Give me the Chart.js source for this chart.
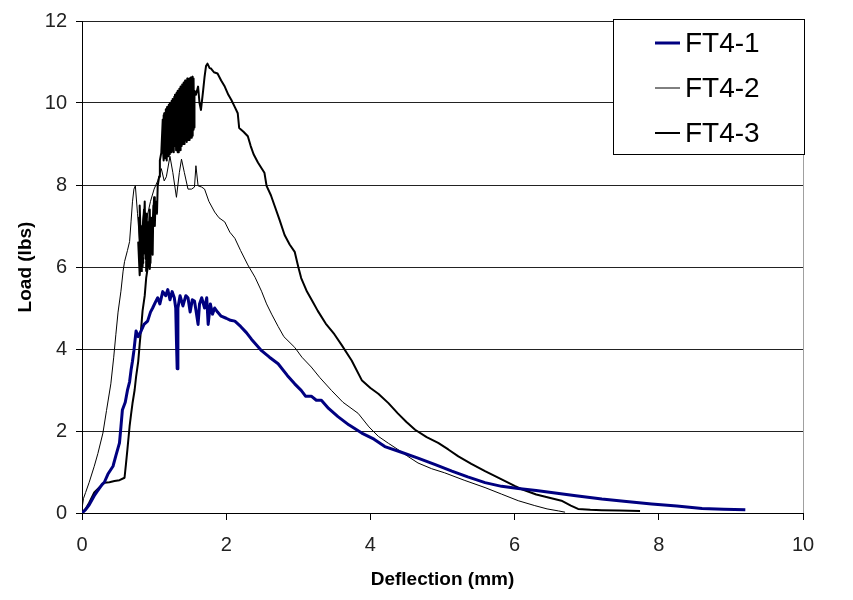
<!DOCTYPE html>
<html>
<head>
<meta charset="utf-8">
<script src="https://cdn.jsdelivr.net/npm/chart.js@4"></script>
<style>
  html, body { margin: 0; padding: 0; background: #fff; }
  #wrap { width: 853px; height: 600px; }
</style>
</head>
<body>
<div id="wrap"><canvas id="chart" width="853" height="600"></canvas></div>
<script>
// deflection (mm), load (lbs) pairs
const ft41 = [
  [0,0],[0.05,0.08],[0.1,0.2],[0.17,0.42],[0.22,0.55],[0.28,0.7],[0.31,0.75],[0.36,0.95],
  [0.43,1.14],[0.47,1.4],[0.52,1.71],[0.54,2.1],[0.56,2.51],[0.6,2.7],[0.63,2.99],[0.66,3.2],
  [0.68,3.48],[0.7,3.7],[0.72,3.96],[0.75,4.44],[0.78,4.3],[0.82,4.44],[0.86,4.6],[0.91,4.68],
  [0.95,4.9],[0.98,5.0],[1.02,5.15],[1.05,5.25],[1.08,5.1],[1.12,5.4],[1.16,5.3],[1.19,5.45],
  [1.22,5.2],[1.25,5.4],[1.28,5.25],[1.3,5.0],[1.31,4.2],[1.32,3.52],[1.33,5.0],[1.36,5.3],
  [1.4,5.05],[1.44,5.3],[1.47,5.25],[1.5,4.9],[1.53,5.2],[1.56,5.17],[1.58,4.95],[1.61,4.6],
  [1.63,5.1],[1.66,5.25],[1.7,5.0],[1.73,5.25],[1.75,4.6],[1.78,5.1],[1.81,4.85],[1.84,5.0],
  [1.88,4.9],[1.93,4.8],[2.0,4.75],[2.06,4.7],[2.12,4.68],[2.2,4.55],[2.28,4.4],[2.35,4.24],
  [2.42,4.1],[2.49,3.96],[2.6,3.8],[2.72,3.64],[2.85,3.35],[2.95,3.15],[3.04,2.99],[3.1,2.85],
  [3.18,2.85],[3.25,2.75],[3.32,2.75],[3.42,2.55],[3.55,2.35],[3.7,2.15],[3.88,1.95],[4.05,1.8],
  [4.2,1.62],[4.4,1.5],[4.66,1.34],[4.9,1.18],[5.13,1.02],[5.35,0.88],[5.59,0.74],[5.82,0.65],
  [6.05,0.6],[6.3,0.55],[6.51,0.5],[6.85,0.42],[7.21,0.34],[7.55,0.28],[7.9,0.22],[8.25,0.17],
  [8.6,0.11],[8.9,0.09],[9.2,0.08]
];

const ft42 = [
  [0,0.1],[0.02,0.35],[0.05,0.5],[0.1,0.75],[0.17,1.14],[0.22,1.45],[0.29,1.95],[0.34,2.5],
  [0.4,3.15],[0.44,3.8],[0.47,4.36],[0.5,4.9],[0.54,5.41],[0.57,5.9],[0.59,6.13],[0.63,6.4],
  [0.66,6.62],[0.68,7.1],[0.7,7.59],[0.72,7.9],[0.74,7.98],[0.77,7.3],[0.8,6.6],[0.83,6.9],
  [0.86,7.4],[0.9,7.2],[0.95,7.6],[1.0,7.9],[1.05,8.1],[1.1,8.4],[1.14,8.1],[1.17,8.2],
  [1.22,8.7],[1.26,8.3],[1.31,7.7],[1.35,8.3],[1.38,8.63],[1.42,8.3],[1.47,7.9],[1.52,7.9],
  [1.56,7.95],[1.58,8.47],[1.61,7.98],[1.66,7.95],[1.7,7.9],[1.76,7.6],[1.84,7.34],[1.9,7.2],
  [1.98,7.1],[2.05,6.85],[2.12,6.7],[2.2,6.4],[2.3,6.05],[2.4,5.75],[2.49,5.41],[2.56,5.1],
  [2.63,4.85],[2.72,4.55],[2.8,4.3],[2.95,4.04],[3.05,3.8],[3.18,3.56],[3.3,3.3],[3.46,2.99],
  [3.62,2.7],[3.83,2.43],[3.98,2.1],[4.11,1.87],[4.25,1.7],[4.38,1.55],[4.52,1.38],[4.66,1.22],
  [4.85,1.08],[5.03,0.98],[5.3,0.8],[5.59,0.62],[5.82,0.46],[6.05,0.3],[6.28,0.18],[6.45,0.1],
  [6.61,0.05],[6.7,0.02]
];

const ft43 = [
  [0,0],[0.05,0.1],[0.1,0.25],[0.17,0.5],[0.24,0.62],[0.31,0.74],[0.38,0.75],[0.45,0.78],
  [0.52,0.8],[0.59,0.86],[0.61,1.2],[0.63,1.55],[0.66,2.11],[0.68,2.4],[0.7,2.67],[0.73,3.0],
  [0.75,3.32],[0.78,3.7],[0.8,4.12],[0.82,4.5],[0.84,4.93],[0.87,5.3],[0.89,5.73],[0.91,5.97],
  [0.79,7.2],[0.81,6.0],[0.8,7.5],[0.83,5.9],[0.82,7.0],[0.85,6.1],[0.78,6.6],[0.8,5.8],
  [0.86,7.4],[0.84,6.0],[0.87,7.6],[0.88,6.2],[0.9,7.3],[0.89,5.9],[0.92,7.1],[0.93,6.0],
  [0.85,6.9],[0.91,6.3],[0.94,7.4],[0.95,6.1],[0.96,7.2],[0.94,5.95],[0.97,7.0],[0.98,6.3],
  [0.99,7.5],[0.97,6.5],[1.0,7.7],[1.01,7.0],[1.02,7.6],[1.04,7.3],[1.05,7.98],[1.07,8.2],
  [1.08,8.6],[1.1,8.79],
  [1.12,9.6],[1.125,8.8],[1.13,9.7],[1.135,8.6],[1.14,9.75],[1.145,8.7],[1.15,9.6],[1.155,8.65],
  [1.16,9.85],[1.165,8.75],[1.17,9.7],[1.175,8.6],[1.18,9.9],[1.185,8.8],[1.19,9.8],[1.195,8.7],
  [1.2,9.95],[1.205,8.9],[1.21,9.85],[1.215,8.75],[1.22,10.0],[1.225,8.9],[1.23,9.9],[1.235,8.8],
  [1.24,10.05],[1.245,9.0],[1.25,9.8],[1.255,8.85],[1.26,10.1],[1.265,8.9],[1.27,10.0],[1.275,8.8],
  [1.28,10.15],[1.285,8.95],[1.29,10.2],[1.295,9.0],[1.3,10.05],[1.305,8.85],[1.31,10.25],[1.315,9.0],
  [1.32,10.1],[1.325,8.8],[1.33,10.3],[1.335,8.9],[1.34,10.2],[1.345,8.8],[1.35,10.35],[1.355,9.05],
  [1.36,10.25],[1.365,8.85],[1.37,10.4],[1.375,9.1],[1.38,10.3],[1.385,8.95],[1.39,10.45],[1.395,9.1],
  [1.4,10.35],[1.405,9.0],[1.41,10.5],[1.415,9.15],[1.42,10.4],[1.425,9.0],[1.43,10.55],[1.435,9.1],
  [1.44,10.45],[1.445,9.2],[1.45,10.5],[1.455,9.05],[1.46,10.6],[1.465,9.2],[1.47,10.45],[1.475,9.1],
  [1.48,10.55],[1.485,9.25],[1.49,10.6],[1.495,9.1],[1.5,10.5],[1.505,9.3],[1.51,10.62],[1.515,9.15],
  [1.52,10.55],[1.525,9.3],[1.53,10.64],[1.535,9.2],[1.54,10.5],[1.545,9.35],[1.55,10.6],[1.555,9.4],
  [1.56,10.3],
  [1.58,10.2],[1.61,10.4],[1.63,10.0],[1.65,9.83],[1.68,10.3],[1.7,10.64],[1.72,10.9],[1.74,10.96],
  [1.77,10.85],[1.79,10.84],[1.83,10.75],[1.88,10.72],[1.93,10.55],[1.98,10.4],[2.03,10.2],[2.07,10.08],
  [2.12,9.9],[2.16,9.75],[2.18,9.39],[2.24,9.3],[2.3,9.19],[2.34,8.95],[2.38,8.75],[2.44,8.55],
  [2.53,8.3],[2.56,7.98],[2.62,7.75],[2.67,7.5],[2.74,7.15],[2.81,6.78],[2.88,6.55],[2.95,6.37],
  [3.0,6.0],[3.04,5.73],[3.12,5.4],[3.2,5.15],[3.27,4.93],[3.38,4.62],[3.5,4.36],[3.6,4.1],
  [3.74,3.72],[3.88,3.24],[4.0,3.05],[4.11,2.91],[4.25,2.68],[4.38,2.43],[4.5,2.22],[4.62,2.03],
  [4.78,1.85],[4.94,1.71],[5.08,1.55],[5.22,1.38],[5.4,1.2],[5.59,1.02],[5.82,0.82],[6.0,0.66],
  [6.1,0.58],[6.3,0.45],[6.51,0.36],[6.65,0.3],[6.78,0.18],[6.88,0.1],[7.05,0.08],[7.21,0.07],
  [7.45,0.06],[7.74,0.05]
];

const seriesNames = ['FT4-1', 'FT4-2', 'FT4-3']
const seriesColors = ['#000080', '#000000', '#000000']
const seriesWidths = [3, 1, 2]
const xTicks = [0, 2, 4, 6, 8, 10]
const yTicks = [0, 2, 4, 6, 8, 10, 12]

const toPoints = arr => arr.map(([x, y]) => ({ x, y }))
const allSeries = [ft41, ft42, ft43]

const tickFont = { family: "'Liberation Sans Narrow', 'Liberation Sans', Arial, sans-serif", size: 20 }
const titleFont = { family: "'Liberation Sans', Arial, sans-serif", size: 19, weight: 'bold' }

// legend box drawn inside the plot, top right
const boxLegend = {
    id: 'boxLegend',
    afterDraw(chart) {
        const { ctx, chartArea } = chart
        ctx.save()
        // grey right border of plot area
        ctx.strokeStyle = '#a0a0a0'
        ctx.lineWidth = 1
        ctx.beginPath()
        ctx.moveTo(chartArea.right + 0.5, chartArea.top)
        ctx.lineTo(chartArea.right + 0.5, chartArea.bottom)
        ctx.stroke()

        const x0 = 613, y0 = 19, w = 191, h = 135
        ctx.fillStyle = '#fff'
        ctx.fillRect(x0, y0, w, h)
        ctx.strokeStyle = '#000'
        ctx.strokeRect(x0 + 0.5, y0 + 0.5, w, h)
        ctx.font = "28px 'Liberation Sans', Arial, sans-serif"
        ctx.textBaseline = 'middle'
        chart.data.datasets.forEach((ds, i) => {
            const y = 43 + i * 45
            ctx.strokeStyle = ds.borderColor
            ctx.lineWidth = ds.borderWidth
            ctx.beginPath()
            ctx.moveTo(655, y)
            ctx.lineTo(680, y)
            ctx.stroke()
            ctx.fillStyle = '#000'
            ctx.fillText(ds.label, 685, y + 1)
        })
        ctx.restore()
    }
}

new Chart(document.getElementById('chart'), {
    type: 'scatter',
    data: {
        datasets: allSeries.map((s, i) => ({
            label: seriesNames[i],
            data: toPoints(s),
            showLine: true,
            borderColor: seriesColors[i],
            backgroundColor: seriesColors[i],
            borderWidth: seriesWidths[i],
            pointRadius: 0,
            tension: 0,
            borderJoinStyle: 'round'
        }))
    },
    options: {
        responsive: false,
        animation: false,
        layout: { padding: { top: 17, right: 50, left: 0, bottom: 0 } },
        plugins: { legend: { display: false }, tooltip: { enabled: false } },
        scales: {
            x: {
                type: 'linear',
                min: 0, max: 10,
                afterBuildTicks: scale => { scale.ticks = xTicks.map(v => ({ value: v })) },
                afterFit: scale => { scale.height = 87 },
                grid: { drawOnChartArea: false, tickLength: 7, tickColor: '#000' },
                border: { color: '#000', width: 1 },
                ticks: { font: tickFont, color: '#222', padding: 13, maxRotation: 0 },
                title: { display: true, text: 'Deflection (mm)', font: titleFont, color: '#000', padding: { top: 0, bottom: 9 } }
            },
            y: {
                min: 0, max: 12,
                afterBuildTicks: scale => { scale.ticks = yTicks.map(v => ({ value: v })) },
                afterFit: scale => { scale.width = 82 },
                grid: { color: '#222', tickLength: 6, tickColor: '#000' },
                border: { color: '#000', width: 1 },
                ticks: { font: tickFont, color: '#222', padding: 9 },
                title: { display: true, text: 'Load (lbs)', font: titleFont, color: '#000', padding: { top: 14, bottom: 0 } }
            }
        }
    },
    plugins: [boxLegend]
})
</script>
</body>
</html>
